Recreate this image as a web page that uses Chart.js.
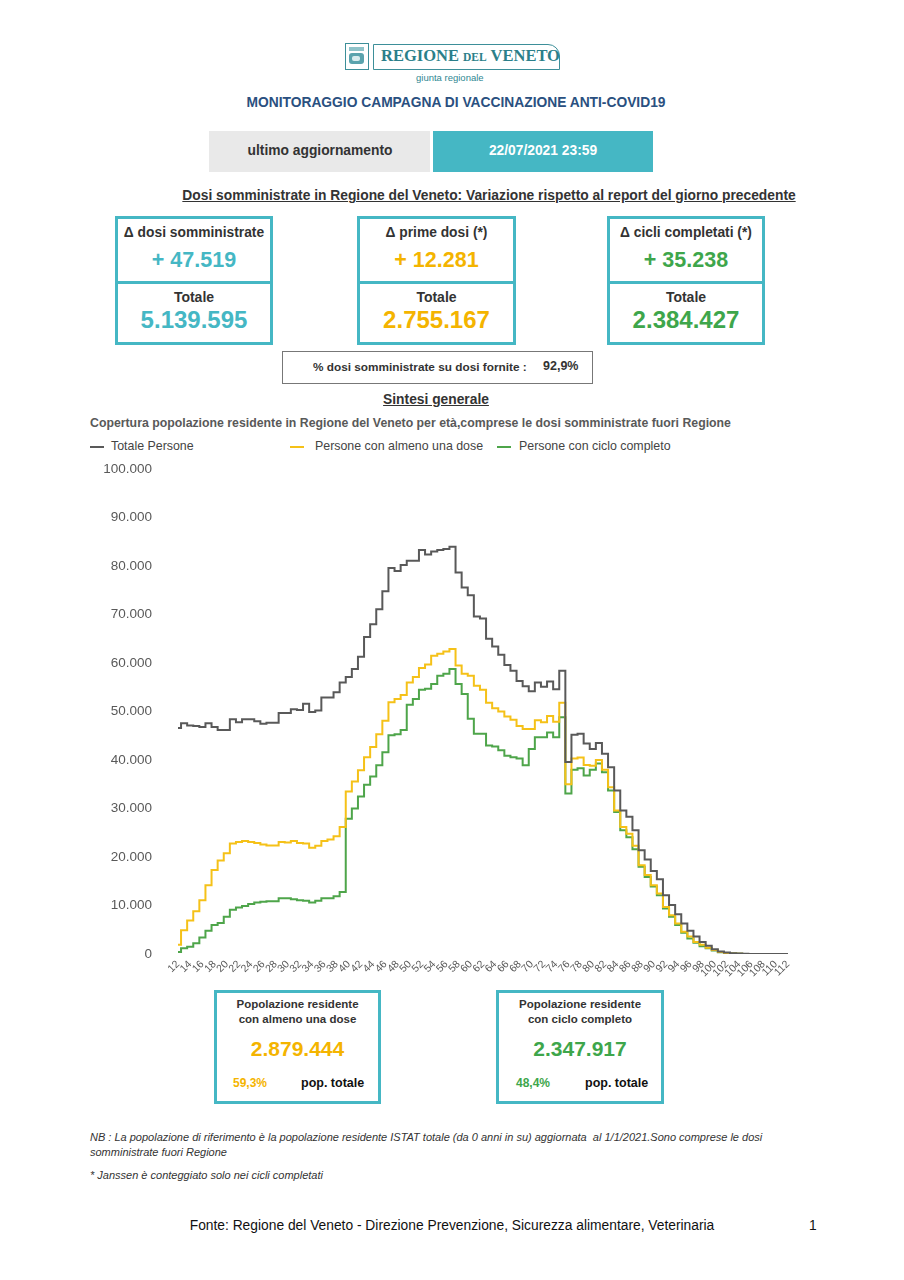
<!DOCTYPE html>
<html lang="it">
<head>
  <meta charset="UTF-8" />
  <title>Monitoraggio campagna di vaccinazione</title>
  <script src="https://cdn.jsdelivr.net/npm/chart.js"></script>
  <style>
    body { margin: 0; background: #fff; font-family: "Liberation Sans", Arial, sans-serif; color: #333; }
    .page { position: relative; width: 904px; height: 1280px; overflow: hidden; }
    .abs { position: absolute; white-space: nowrap; }
    .center { transform: translateX(-50%); }
    .kpi { position: absolute; border: 3px solid #45b7c4; box-sizing: border-box; text-align: center; }
    .kpi .lbl { font-weight: bold; font-size: 13.8px; color: #333; }
    .kpi .val { font-weight: bold; }
    .legend-line { position: absolute; height: 2px; width: 14px; }
    .legend-txt { position: absolute; font-size: 12.4px; color: #444; }
    .popbox { position: absolute; border: 3px solid #45b7c4; box-sizing: border-box; }
    .popbox .t { position: absolute; left: 0; right: 0; text-align: center; font-weight: bold; font-size: 11.5px; color: #333; }
    .note { font-style: italic; font-size: 11px; color: #333; font-family: "Liberation Sans Narrow", "Liberation Sans", Arial, sans-serif; }
  </style>
</head>
<body>
<div class="page">
  <!-- logo -->
  <div class="abs" style="left:345px;top:43px;width:24px;height:27px;border:1.5px solid #3d8f99;box-sizing:border-box;">
    <div style="position:absolute;left:3px;top:3px;width:15px;height:4px;background:#8fc3c9;"></div>
    <div style="position:absolute;left:3px;top:9px;width:15px;height:11px;background:#5aa3ad;border-radius:3px;"></div>
    <div style="position:absolute;left:6px;top:12px;width:8px;height:5px;background:#d8ecee;border-radius:2px;"></div>
  </div>
  <div class="abs" style="left:373px;top:44px;width:187px;height:26px;border:1.5px solid #3d8f99;border-radius:0 12px 0 0;box-sizing:border-box;"></div>
  <div class="abs" style="left:381px;top:46px;font-family:'Liberation Serif','DejaVu Serif',serif;font-weight:bold;color:#2b7f8a;font-size:16.5px;">
    REGIONE <span style="font-size:11.5px;">DEL</span> VENETO
  </div>
  <div class="abs" style="left:416px;top:72px;font-size:9.5px;color:#2f8792;">giunta regionale</div>

  <div class="abs center" style="left:456px;top:95px;font-weight:bold;font-size:13.8px;color:#2a5080;">MONITORAGGIO CAMPAGNA DI VACCINAZIONE ANTI-COVID19</div>

  <div class="abs" style="left:209px;top:131px;width:221px;height:41px;background:#e9e9e9;"></div>
  <div class="abs center" style="left:320px;top:143px;font-weight:bold;font-size:13.8px;color:#333;">ultimo aggiornamento</div>
  <div class="abs" style="left:433px;top:131px;width:220px;height:41px;background:#45b7c4;"></div>
  <div class="abs center" style="left:543px;top:143px;font-weight:bold;font-size:13.8px;color:#fff;">22/07/2021 23:59</div>

  <div class="abs center" style="left:489px;top:188px;font-weight:bold;font-size:13.8px;color:#333;text-decoration:underline;">Dosi somministrate in Regione del Veneto: Variazione rispetto al report del giorno precedente</div>

  <!-- KPI boxes -->
  <div class="kpi" style="left:115px;top:216px;width:158px;height:68px;">
    <div class="lbl" style="margin-top:6px;">Δ dosi somministrate</div>
    <div class="val" style="font-size:21.5px;color:#45b7c4;margin-top:8px;">+ 47.519</div>
  </div>
  <div class="kpi" style="left:115px;top:281px;width:158px;height:64px;">
    <div class="lbl" style="margin-top:5px;font-size:14px;">Totale</div>
    <div class="val" style="font-size:24px;color:#45b7c4;margin-top:1px;">5.139.595</div>
  </div>

  <div class="kpi" style="left:357px;top:216px;width:159px;height:68px;">
    <div class="lbl" style="margin-top:6px;">Δ prime dosi (*)</div>
    <div class="val" style="font-size:21.5px;color:#f4b400;margin-top:8px;">+ 12.281</div>
  </div>
  <div class="kpi" style="left:357px;top:281px;width:159px;height:64px;">
    <div class="lbl" style="margin-top:5px;font-size:14px;">Totale</div>
    <div class="val" style="font-size:24px;color:#f4b400;margin-top:1px;">2.755.167</div>
  </div>

  <div class="kpi" style="left:607px;top:216px;width:158px;height:68px;">
    <div class="lbl" style="margin-top:6px;">Δ cicli completati (*)</div>
    <div class="val" style="font-size:21.5px;color:#3ea64b;margin-top:8px;">+ 35.238</div>
  </div>
  <div class="kpi" style="left:607px;top:281px;width:158px;height:64px;">
    <div class="lbl" style="margin-top:5px;font-size:14px;">Totale</div>
    <div class="val" style="font-size:24px;color:#3ea64b;margin-top:1px;">2.384.427</div>
  </div>

  <div class="abs" style="left:282px;top:351px;width:311px;height:33px;border:1px solid #777;box-sizing:border-box;"></div>
  <div class="abs" style="left:313px;top:360px;font-weight:bold;font-size:11.8px;color:#333;">% dosi somministrate su dosi fornite :</div>
  <div class="abs" style="left:543px;top:359px;font-weight:bold;font-size:12.5px;color:#333;">92,9%</div>

  <div class="abs center" style="left:436px;top:392px;font-weight:bold;font-size:13.8px;color:#333;text-decoration:underline;">Sintesi generale</div>
  <div class="abs" style="left:90px;top:416px;font-weight:bold;font-size:12.3px;color:#595959;">Copertura popolazione residente in Regione del Veneto per età,comprese le dosi somministrate fuori Regione</div>

  <!-- legend -->
  <div class="legend-line" style="left:90px;top:446px;background:#595959;"></div>
  <div class="legend-txt" style="left:111px;top:439px;">Totale Persone</div>
  <div class="legend-line" style="left:290px;top:446px;background:#f5c118;"></div>
  <div class="legend-txt" style="left:315px;top:439px;">Persone con almeno una dose</div>
  <div class="legend-line" style="left:497px;top:446px;background:#4ea54a;"></div>
  <div class="legend-txt" style="left:519px;top:439px;">Persone con ciclo completo</div>

  <div class="abs" style="left:0;top:435px;width:904px;height:555px;">
    <canvas id="chart"></canvas>
  </div>

  <!-- population boxes -->
  <div class="popbox" style="left:214px;top:990px;width:167px;height:114px;">
    <div class="t" style="top:5px;">Popolazione residente</div>
    <div class="t" style="top:20px;">con almeno una dose</div>
    <div class="t" style="top:44px;font-size:21px;color:#f4b400;">2.879.444</div>
    <div style="position:absolute;left:16px;top:83px;font-weight:bold;font-size:12px;color:#f4b400;">59,3%</div>
    <div style="position:absolute;left:84px;top:83px;font-weight:bold;font-size:12.5px;color:#111;">pop. totale</div>
  </div>
  <div class="popbox" style="left:496px;top:990px;width:168px;height:114px;">
    <div class="t" style="top:5px;">Popolazione residente</div>
    <div class="t" style="top:20px;">con ciclo completo</div>
    <div class="t" style="top:44px;font-size:21px;color:#3ea64b;">2.347.917</div>
    <div style="position:absolute;left:17px;top:83px;font-weight:bold;font-size:12px;color:#3ea64b;">48,4%</div>
    <div style="position:absolute;left:86px;top:83px;font-weight:bold;font-size:12.5px;color:#111;">pop. totale</div>
  </div>

  <div class="abs note" style="left:90px;top:1131px;">NB : La popolazione di riferimento è la popolazione residente ISTAT totale (da 0 anni in su) aggiornata&nbsp; al 1/1/2021.Sono comprese le dosi</div>
  <div class="abs note" style="left:90px;top:1146px;">somministrate fuori Regione</div>
  <div class="abs note" style="left:90px;top:1169px;">* Janssen è conteggiato solo nei cicli completati</div>

  <div class="abs center" style="left:452px;top:1218px;font-size:13.8px;color:#111;">Fonte: Regione del Veneto - Direzione Prevenzione, Sicurezza alimentare, Veterinaria</div>
  <div class="abs" style="left:809px;top:1218px;font-size:13.8px;color:#111;">1</div>
</div>

<script>
  // età (anni)
  const eta = [12, 13, 14, 15, 16, 17, 18, 19, 20, 21, 22, 23, 24, 25, 26, 27, 28, 29, 30, 31,
    32, 33, 34, 35, 36, 37, 38, 39, 40, 41, 42, 43, 44, 45, 46, 47, 48, 49, 50, 51,
    52, 53, 54, 55, 56, 57, 58, 59, 60, 61, 62, 63, 64, 65, 66, 67, 68, 69, 70, 71,
    72, 73, 74, 75, 76, 77, 78, 79, 80, 81, 82, 83, 84, 85, 86, 87, 88, 89, 90, 91,
    92, 93, 94, 95, 96, 97, 98, 99, 100, 101, 102, 103, 104, 105, 106, 107, 108, 109, 110, 111, 112];

  // Totale Persone
  const totalePersone = [
    46600, 47600, 47100, 47000, 46800, 47600, 46800, 46200, 46200, 48400,
    47800, 48400, 48400, 48000, 47500, 47700, 47700, 49700, 49700, 50500,
    50300, 51600, 49900, 50200, 52900, 52900, 54000, 56000, 57100, 58800,
    61300, 65400, 68000, 71100, 74800, 79600, 79000, 80200, 81100, 81100,
    83300, 82400, 83000, 83300, 83500, 84000, 78700, 75600, 74000, 69600,
    69200, 65000, 63400, 61700, 59600, 58400, 56300, 55200, 54200, 56000,
    55100, 56200, 54600, 58400, 39600, 45200, 45400, 43400, 42300, 43500,
    41300, 38500, 33700, 29600, 28300, 25500, 21400, 19500, 17100, 15400,
    12100, 10100, 8200, 6300, 4800, 3600, 2500, 1700, 1000, 500,
    300, 150, 80, 40, 20, 10, 10, 0, 0, 0, 0];

  // Persone con almeno una dose
  const almenoUnaDose = [
    1900, 4900, 6900, 8800, 11100, 14200, 17300, 19300, 20800, 22800,
    23100, 23300, 23100, 22900, 22600, 22400, 22400, 23100, 23000, 23300,
    22900, 22800, 21900, 22300, 23300, 23600, 24300, 26200, 33500, 35600,
    37900, 40600, 42700, 45300, 48100, 51900, 52600, 53400, 56000, 57100,
    59000, 59700, 61500, 61900, 62400, 62900, 59500, 57800, 57400, 55300,
    54500, 51800, 50700, 50000, 49000, 48300, 47000, 46400, 46400, 48200,
    47800, 49100, 47900, 51800, 35000, 40300, 40500, 39000, 38800, 40000,
    38000, 34400, 29600, 26200, 24800, 22300, 18300, 16300, 14200, 12500,
    9700, 8000, 6300, 4600, 3600, 2500, 1900, 1300, 800, 400,
    200, 100, 50, 20, 10, 10, 0, 0, 0, 0, 0];

  // Persone con ciclo completo
  const cicloCompleto = [
    400, 1200, 1500, 2200, 3400, 4800, 6000, 6400, 7700, 9100,
    9600, 9900, 10300, 10600, 10800, 10900, 10900, 11500, 11500, 11300,
    11100, 11000, 10600, 11000, 11500, 11500, 11900, 12800, 27900, 30000,
    32500, 34900, 36600, 38900, 41600, 45100, 45300, 46200, 51400, 52600,
    54500, 54700, 55700, 57400, 57800, 58800, 55700, 53600, 48500, 45400,
    45400, 43000, 42800, 42000, 40900, 40600, 40300, 38900, 42300, 44700,
    44700, 45700, 44700, 48800, 33100, 38000, 38300, 36800, 38000, 39300,
    37500, 33700, 29300, 25500, 24100, 21600, 18000, 15900, 13900, 12100,
    9400, 7700, 6000, 4400, 3200, 2300, 1600, 1200, 700, 350,
    150, 80, 40, 20, 10, 0, 0, 0, 0, 0, 0];

  const yTicks = [0, 10000, 20000, 30000, 40000, 50000, 60000, 70000, 80000, 90000, 100000];

  function formatIt(v) {
    return String(v).replace(/\B(?=(\d{3})+(?!\d))/g, '.');
  }

  function serie(label, data, color) {
    return {
      label: label,
      data: data,
      borderColor: color,
      backgroundColor: color,
      borderWidth: 2,
      pointRadius: 0,
      stepped: 'middle',
      fill: false,
    };
  }

  new Chart(document.getElementById('chart'), {
    type: 'line',
    data: {
      labels: eta,
      datasets: [
        serie('Totale Persone', totalePersone, '#595959'),
        serie('Persone con almeno una dose', almenoUnaDose, '#f5c118'),
        serie('Persone con ciclo completo', cicloCompleto, '#4ea54a'),
      ],
    },
    options: {
      responsive: true,
      maintainAspectRatio: false,
      animation: false,
      layout: { padding: { top: 0, right: 116, left: 0, bottom: 0 } },
      plugins: { legend: { display: false }, tooltip: { enabled: false } },
      scales: {
        x: {
          grid: { display: false, drawTicks: false },
          border: { display: false },
          ticks: {
            autoSkip: false,
            minRotation: 45,
            maxRotation: 45,
            padding: 4,
            color: '#595959',
            font: { family: 'Liberation Sans', size: 10.5 },
            callback: function (value, index) {
              const a = eta[index];
              return a % 2 === 0 ? String(a) : '';
            },
          },
          afterFit: (scale) => { scale.height = 36; },
        },
        y: {
          min: 0,
          max: 100000,
          afterBuildTicks: (scale) => { scale.ticks = yTicks.map(v => ({ value: v })); },
          grid: { display: false, drawTicks: false },
          border: { display: false },
          ticks: {
            padding: 26,
            color: '#595959',
            font: { family: 'Liberation Sans', size: 13.5 },
            callback: (v) => formatIt(v),
          },
          afterFit: (scale) => { scale.width = 178; },
        },
      },
    },
  });
</script>
</body>
</html>
